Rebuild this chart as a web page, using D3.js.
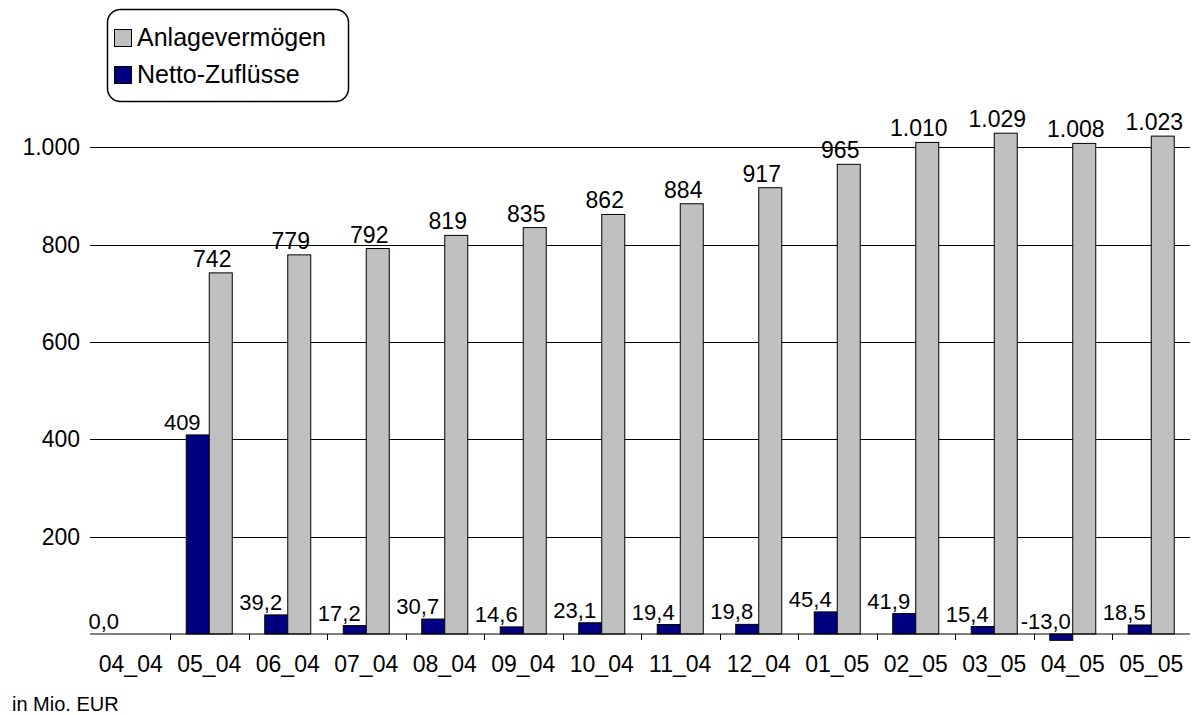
<!DOCTYPE html>
<html>
<head>
<meta charset="utf-8">
<script src="https://cdn.jsdelivr.net/npm/d3@7"></script>
<style>
  body { margin: 0; background: #fff; }
  text { font-family: "Liberation Sans", Arial, sans-serif; fill: #000; }
</style>
</head>
<body>
<div id="chart"></div>
<script>
let months = ["04_04", "05_04", "06_04", "07_04", "08_04", "09_04", "10_04",
              "11_04", "12_04", "01_05", "02_05", "03_05", "04_05", "05_05"];
let nettoZufluesse = [0.0, 409, 39.2, 17.2, 30.7, 14.6, 23.1, 19.4, 19.8, 45.4, 41.9, 15.4, -13.0, 18.5];
let anlagevermoegen = [null, 742, 779, 792, 819, 835, 862, 884, 917, 965, 1010, 1029, 1008, 1023];
let yTicks = [200, 400, 600, 800, 1000];
let seriesNames = ["Anlagevermögen", "Netto-Zuflüsse"];
let seriesColors = ["#c0c0c0", "#000080"];

let width = 1196, height = 715;

let svg = d3.select("#chart")
    .append("svg")
    .attr("width", width)
    .attr("height", height);

let x = d3.scaleBand().domain(months).range([91.5, 1190.5]).padding(0);
let y = d3.scaleLinear().domain([0, 1000]).range([634, 147.3]);

let de = d3.formatLocale({ decimal: ",", thousands: ".", grouping: [3], minus: "-" });
let fmtInt = de.format(",.0f");
let fmtDec = de.format(",.1f");

let netto = months.map((m, i) => ({ month: m, value: nettoZufluesse[i] }));
let anlage = months.map((m, i) => ({ month: m, value: anlagevermoegen[i] }))
    .filter(d => d.value !== null);

let mid = d => x(d.month) + x.bandwidth() / 2;

// gridlines
svg.append("g")
    .selectAll("line")
    .data(yTicks)
    .enter()
    .append("line")
    .attr("x1", 90)
    .attr("x2", 1190)
    .attr("y1", d => Math.round(y(d)) + 0.5)
    .attr("y2", d => Math.round(y(d)) + 0.5)
    .attr("stroke", "#000")
    .attr("stroke-width", 1);

svg.append("g")
    .selectAll("text")
    .data(yTicks)
    .enter()
    .append("text")
    .attr("x", 80)
    .attr("y", d => y(d) + 8)
    .attr("text-anchor", "end")
    .style("font-size", "23px")
    .text(d => fmtInt(d));

let barW = 23;

// blue bars
svg.append("g")
    .selectAll("rect")
    .data(netto.filter(d => d.value !== 0))
    .enter()
    .append("rect")
    .attr("x", d => mid(d) - barW)
    .attr("y", d => y(Math.max(0, d.value)))
    .attr("width", barW)
    .attr("height", d => Math.abs(y(d.value) - y(0)))
    .attr("fill", seriesColors[1])
    .attr("stroke", "#000")
    .attr("stroke-width", 1);

// gray bars
svg.append("g")
    .selectAll("rect")
    .data(anlage)
    .enter()
    .append("rect")
    .attr("x", d => mid(d))
    .attr("y", d => y(d.value))
    .attr("width", barW)
    .attr("height", d => y(0) - y(d.value))
    .attr("fill", seriesColors[0])
    .attr("stroke", "#000")
    .attr("stroke-width", 1);

// zero axis and ticks
svg.append("line")
    .attr("x1", 90).attr("x2", 1190)
    .attr("y1", y(0)).attr("y2", y(0))
    .attr("stroke", "#000").attr("stroke-width", 1.2);

svg.append("g")
    .selectAll("line")
    .data(months.slice(1))
    .enter()
    .append("line")
    .attr("x1", d => Math.round(x(d)) + 0.5)
    .attr("x2", d => Math.round(x(d)) + 0.5)
    .attr("y1", y(0))
    .attr("y2", y(0) + 6)
    .attr("stroke", "#000");

svg.append("g")
    .selectAll("text")
    .data(months)
    .enter()
    .append("text")
    .attr("x", d => x(d) + x.bandwidth() / 2)
    .attr("y", 672)
    .attr("text-anchor", "middle")
    .style("font-size", "23px")
    .text(d => d);

// value labels
svg.append("g")
    .selectAll("text")
    .data(anlage)
    .enter()
    .append("text")
    .attr("x", d => mid(d) + 3)
    .attr("y", d => y(d.value) - 6)
    .attr("text-anchor", "middle")
    .style("font-size", "23px")
    .text(d => fmtInt(d.value));

svg.append("g")
    .selectAll("text")
    .data(netto)
    .enter()
    .append("text")
    .attr("x", d => mid(d) - 27)
    .attr("y", d => y(Math.max(0, d.value)) - 5)
    .attr("text-anchor", "middle")
    .style("font-size", "22px")
    .text(d => d.value >= 100 ? fmtInt(d.value) : fmtDec(d.value));

// unit note
svg.append("text")
    .attr("x", 12)
    .attr("y", 711)
    .style("font-size", "20px")
    .text("in Mio. EUR");

// legend
let legend = svg.append("g");
legend.append("rect")
    .attr("x", 107.5).attr("y", 9.5)
    .attr("width", 241).attr("height", 92)
    .attr("rx", 13)
    .attr("fill", "#fff")
    .attr("stroke", "#000")
    .attr("stroke-width", 1.5);

seriesNames.forEach(function(name, i) {
    legend.append("rect")
        .attr("x", 114.5)
        .attr("y", 29.5 + i * 37)
        .attr("width", 17)
        .attr("height", 17)
        .attr("fill", seriesColors[i])
        .attr("stroke", "#000");
    legend.append("text")
        .attr("x", 137)
        .attr("y", 46 + i * 37)
        .style("font-size", "25px")
        .text(name);
});
</script>
</body>
</html>
